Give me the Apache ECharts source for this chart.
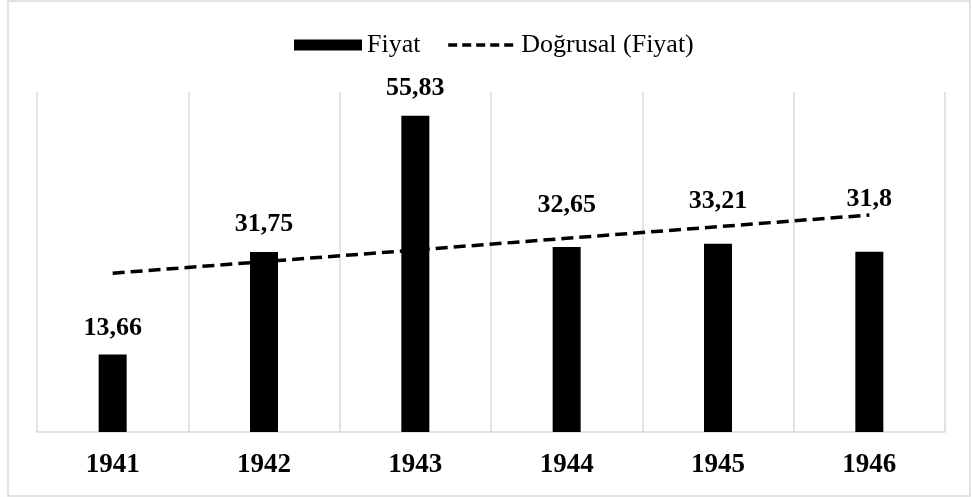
<!DOCTYPE html>
<html>
<head>
<meta charset="utf-8">
<script src="https://cdn.jsdelivr.net/npm/echarts@6/dist/echarts.min.js"></script>
<style>
html,body{margin:0;padding:0;background:#fff;}
#chart{width:972px;height:497px;}
</style>
</head>
<body>
<div id="chart"></div>
<script>
var categories = ['1941', '1942', '1943', '1944', '1945', '1946'];
var fiyat = [13.66, 31.75, 55.83, 32.65, 33.21, 31.8];
var trend = [28.02, 30.07, 32.12, 34.18, 36.23, 38.29];
var labelTexts = ['13,66', '31,75', '55,83', '32,65', '33,21', '31,8'];

var serif = '"Liberation Serif", "Times New Roman", serif';
var labelDistances = [13, 15, 14, 29, 30, 40];

var chart = echarts.init(document.getElementById('chart'), null, {renderer: 'canvas'});
var barData = fiyat.map(function (v, i) {
  return {
    value: v,
    label: {distance: labelDistances[i]}
  };
});

chart.setOption({
  animation: false,
  backgroundColor: '#ffffff',
  graphic: [{
    type: 'rect',
    shape: {x: 8, y: 1, width: 962, height: 495},
    style: {fill: 'none', stroke: '#dadada', lineWidth: 1.5},
    silent: true,
    z: -1
  }],
  legend: {
    left: 294,
    top: 32,
    padding: 0,
    itemWidth: 68,
    itemHeight: 11,
    itemGap: 26,
    textStyle: {fontFamily: serif, fontSize: 26, color: '#000'},
    data: [
      {name: 'Fiyat', icon: 'rect'},
      {name: 'Doğrusal (Fiyat)', itemStyle: {opacity: 0}, lineStyle: {width: 3.5, type: [9, 5], color: '#000'}}
    ]
  },
  grid: {left: 37, right: 27, top: 92, bottom: 65, containLabel: false},
  xAxis: {
    type: 'category',
    data: categories,
    boundaryGap: true,
    axisLine: {show: true, lineStyle: {color: '#d9d9d9', width: 1.5}},
    axisTick: {show: false},
    splitLine: {show: true, lineStyle: {color: '#d9d9d9', width: 1.5}},
    axisLabel: {
      margin: 20,
      fontFamily: serif,
      fontSize: 27,
      fontWeight: 'bold',
      color: '#000'
    }
  },
  yAxis: {
    type: 'value',
    min: 0,
    max: 60,
    show: false,
    splitLine: {show: false}
  },
  series: [
    {
      name: 'Fiyat',
      type: 'bar',
      data: barData,
      barWidth: 28,
      itemStyle: {color: '#000'},
      label: {
        show: true,
        position: 'top',
        fontFamily: serif,
        fontSize: 26,
        fontWeight: 'bold',
        color: '#000',
        formatter: function (p) { return labelTexts[p.dataIndex]; }
      },
      z: 2
    },
    {
      name: 'Doğrusal (Fiyat)',
      type: 'line',
      data: trend,
      symbol: 'none',
      lineStyle: {color: '#000', width: 3.5, type: [12, 6]},
      itemStyle: {color: '#000'},
      z: 3
    }
  ]
});
</script>
</body>
</html>
